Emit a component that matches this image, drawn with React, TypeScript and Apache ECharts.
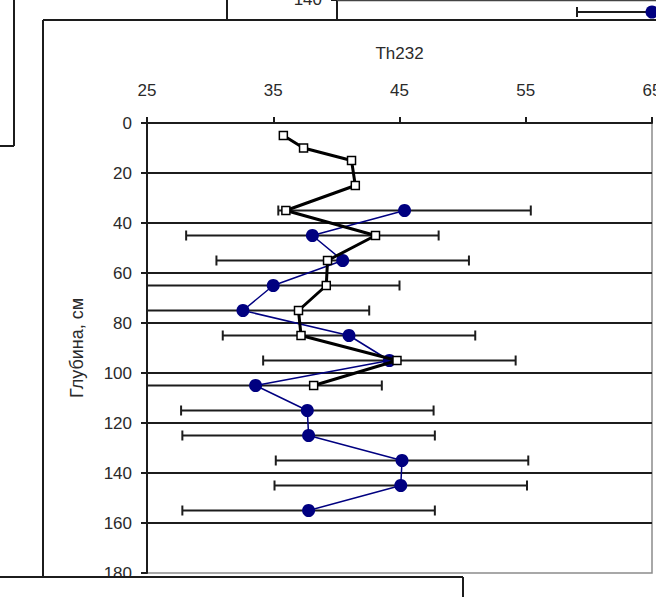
import React, { useEffect, useRef } from "react";
import * as echarts from "echarts";

// Axis ticks
const xTicks = [25, 35, 45, 55, 65];
const depthTicks = [0, 20, 40, 60, 80, 100, 120, 140, 160, 180];

// Series 1 (navy circles with ±error bars)
const blueDepth = [35, 45, 55, 65, 75, 85, 95, 105, 115, 125, 135, 145, 155];
const blueTh = [45.4, 38.1, 40.5, 35.0, 32.6, 41.0, 44.2, 33.6, 37.7, 37.8, 45.2, 45.1, 37.8];
const blueErr = [10, 10, 10, 10, 10, 10, 10, 10, 10, 10, 10, 10, 10];

// Series 2 (black line with white squares)
const blackDepth = [5, 10, 15, 25, 35, 45, 55, 65, 75, 85, 95, 105];
const blackTh = [35.8, 37.4, 41.2, 41.5, 36.0, 43.1, 39.3, 39.2, 37.0, 37.2, 44.8, 38.2];

const X_MIN = xTicks[0];
const X_MAX = xTicks[xTicks.length - 1];
const Y_MIN = depthTicks[0];
const Y_MAX = depthTicks[depthTicks.length - 1];

export default function App() {
  const ref = useRef<HTMLDivElement>(null);

  useEffect(() => {
    if (!ref.current) return;
    const chart = echarts.init(ref.current, null, { renderer: "svg" });
    const font = "'Liberation Sans', Arial, sans-serif";
    const ink = "#1c1c1c";
    const txt = "#2a2a2a";

    const blueData = blueTh.map((v, i) => [v, blueDepth[i]]);
    const errData = blueTh.map((v, i) => [v, blueDepth[i], blueErr[i]]);
    const blackData = blackTh.map((v, i) => [v, blackDepth[i]]);

    const line = (x1: number, y1: number, x2: number, y2: number, w = 2, c = ink, z = 50) => ({
      type: "line",
      z,
      silent: true,
      shape: { x1, y1, x2, y2 },
      style: { stroke: c, lineWidth: w },
    });

    chart.setOption({
      animation: false,
      backgroundColor: "#ffffff",
      textStyle: { fontFamily: font },
      grid: {
        left: 147,
        top: 123,
        width: 505,
        height: 450,
        show: true,
        borderColor: "#8c8c8c",
        borderWidth: 1.5,
        backgroundColor: "transparent",
        containLabel: false,
        outerBoundsMode: "none",
      },
      xAxis: {
        type: "value",
        position: "top",
        min: X_MIN,
        max: X_MAX,
        interval: 10,
        name: "Th232",
        nameLocation: "middle",
        nameGap: 61,
        nameTextStyle: { fontSize: 17, color: txt, fontFamily: font },
        axisLine: { show: true, lineStyle: { color: ink, width: 2 } },
        axisTick: { show: true, inside: false, length: 6, lineStyle: { color: ink, width: 2 } },
        axisLabel: { fontSize: 17, color: txt, margin: 24, fontFamily: font },
        splitLine: { show: false },
      },
      yAxis: {
        type: "value",
        inverse: true,
        min: Y_MIN,
        max: Y_MAX,
        interval: 20,
        name: "Глубина, см",
        nameLocation: "middle",
        nameRotate: 90,
        nameGap: 61,
        nameTextStyle: { fontSize: 18, color: txt, fontFamily: font },
        axisLine: { show: true, lineStyle: { color: ink, width: 2 } },
        axisTick: { show: true, inside: false, length: 6, lineStyle: { color: ink, width: 2 } },
        axisLabel: { fontSize: 17, color: txt, margin: 15, fontFamily: font },
        splitLine: {
          show: true,
          showMinLine: false,
          showMaxLine: false,
          lineStyle: { color: ink, width: 2 },
        },
      },
      series: [
        {
          type: "custom",
          name: "errors",
          z: 2,
          data: errData,
          encode: { x: 0, y: 1 },
          renderItem: (_params: any, api: any) => {
            const x = api.value(0);
            const y = api.value(1);
            const e = api.value(2);
            const lo = Math.max(x - e, X_MIN);
            const hi = Math.min(x + e, X_MAX);
            const p1 = api.coord([lo, y]);
            const p2 = api.coord([hi, y]);
            const st = { stroke: ink, lineWidth: 2 };
            const children: any[] = [
              { type: "line", shape: { x1: p1[0], y1: p1[1], x2: p2[0], y2: p2[1] }, style: st },
            ];
            if (x - e >= X_MIN)
              children.push({ type: "line", shape: { x1: p1[0], y1: p1[1] - 5, x2: p1[0], y2: p1[1] + 5 }, style: st });
            if (x + e <= X_MAX)
              children.push({ type: "line", shape: { x1: p2[0], y1: p2[1] - 5, x2: p2[0], y2: p2[1] + 5 }, style: st });
            return { type: "group", children };
          },
        },
        {
          type: "line",
          name: "Th232 (1)",
          z: 3,
          data: blueData,
          symbol: "circle",
          symbolSize: 13,
          showAllSymbol: true,
          itemStyle: { color: "#000080" },
          lineStyle: { color: "#000080", width: 1.5 },
        },
        {
          type: "line",
          name: "Th232 (2)",
          z: 4,
          data: blackData,
          symbol: "rect",
          symbolSize: 8,
          showAllSymbol: true,
          itemStyle: { color: "#ffffff", borderColor: "#000000", borderWidth: 1.5 },
          lineStyle: { color: "#000000", width: 3 },
        },
      ],
      graphic: [
        // fragment of the chart on the left
        line(14, 0, 14, 146),
        line(0, 146, 14, 146),
        // fragment of the chart above
        line(227, 0, 227, 20),
        line(337, 0, 337, 20),
        line(331, 0, 337, 0),
        line(337, 0.5, 656, 0.5, 1.5, "#444"),
        {
          type: "text",
          z: 50,
          silent: true,
          x: 322,
          y: -1,
          style: { text: "140", fontSize: 17, fill: txt, font: `17px ${font}`, align: "right", verticalAlign: "middle" },
        },
        line(577, 12, 650, 12),
        line(577, 7, 577, 17),
        { type: "circle", z: 51, silent: true, shape: { cx: 652, cy: 12, r: 6.5 }, style: { fill: "#000080" } },
        // frame of this chart
        line(43, 20, 43, 577),
        line(43, 20, 656, 20),
        // the chart below, covering the bottom left
        { type: "rect", z: 60, silent: true, shape: { x: 0, y: 577, width: 463, height: 30 }, style: { fill: "#ffffff" } },
        line(0, 577, 463, 577, 2, ink, 61),
        line(463, 577, 463, 597, 2, ink, 61),
      ],
    });

    return () => chart.dispose();
  }, []);

  return (
    <div
      ref={ref}
      style={{ position: "absolute", left: 0, top: 0, width: 656, height: 597 }}
    />
  );
}
